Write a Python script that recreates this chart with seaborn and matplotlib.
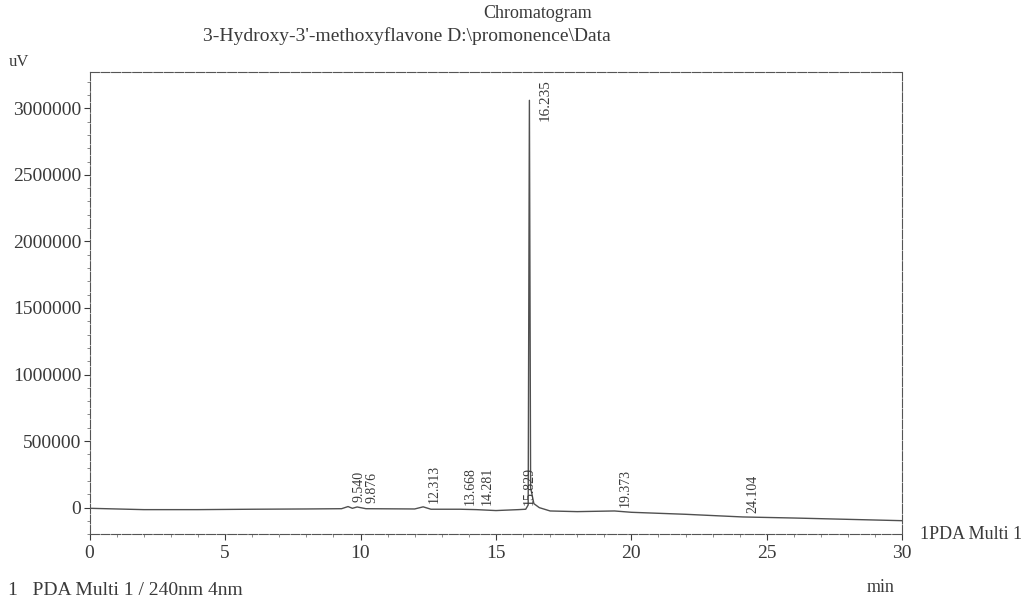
import numpy as np
import pandas as pd
import seaborn as sns
import matplotlib.pyplot as plt
from matplotlib.ticker import MultipleLocator

sns.set_theme(style='white')
plt.rcParams['font.family'] = ['Liberation Serif', 'DejaVu Serif']

# trace (min, uV)
time_min = [0, 1, 2, 4, 6, 8, 9.3, 9.54, 9.7, 9.876, 10.2, 12, 12.313, 12.6,
            13.668, 14.281, 15, 15.829, 16.1, 16.19, 16.235, 16.28, 16.4,
            16.6, 17, 18, 19.373, 20, 22, 24.104, 26, 28, 30]
signal_uv = [-5000, -10000, -15000, -15000, -12000, -10000, -8000, 8000, -5000,
             5000, -8000, -10000, 6000, -12000, -12000, -15000, -22000, -15000,
             -12000, 20000, 3060000, 150000, 30000, 0, -25000, -30000,
             -25000, -35000, -50000, -70000, -78000, -88000, -98000]

# peak labels
peak_rt = [9.540, 9.876, 12.313, 13.668, 14.281, 15.829, 19.373, 24.104]
peak_base = [8000, 5000, 6000, -12000, -15000, -15000, -25000, -70000]
main_rt = 16.235
main_height = 3060000

ink = '#3a3a3a'
df = pd.DataFrame({'time': time_min, 'uV': signal_uv})

fig = plt.figure(figsize=(10.3, 6.03), dpi=100)
ax = fig.add_axes([0.087, 0.114, 0.789, 0.766])
sns.lineplot(data=df, x='time', y='uV', ax=ax, color='#505050', linewidth=1.0,
             estimator=None, sort=False)

ax.set_xlim(0, 30)
ax.set_ylim(-200000, 3270000)
ax.xaxis.set_major_locator(MultipleLocator(5))
ax.xaxis.set_minor_locator(MultipleLocator(1))
ax.yaxis.set_minor_locator(MultipleLocator(100000))
ax.set_yticks(np.arange(0, 3000001, 500000))
ax.set_yticklabels([str(v) for v in range(0, 3000001, 500000)])
ax.tick_params(axis='both', which='major', direction='out', length=4, width=0.8,
               color=ink, labelcolor=ink, labelsize=14, pad=2)
ax.tick_params(axis='both', which='minor', direction='out', length=2, width=0.6,
               color='#777777')
ax.tick_params(axis='x', which='major', pad=4)
ax.tick_params(left=True, bottom=True, which='both')
ax.set_xlabel('')
ax.set_ylabel('')
for sp in ax.spines.values():
    sp.set_visible(True)
    sp.set_color('#555555')
    sp.set_linewidth(0.8)
    sp.set_linestyle((0, (8, 1.5)))

for i, (rt, base) in enumerate(zip(peak_rt, peak_base)):
    dx = 6 if i == 1 else 3
    ax.annotate(f'{rt:.3f}', xy=(rt, base), xytext=(dx, 3), textcoords='offset points',
                rotation=90, ha='left', va='bottom', fontsize=10, color=ink)
ax.annotate(f'{main_rt:.3f}', xy=(main_rt, main_height), xytext=(7, 0),
            textcoords='offset points', rotation=90, ha='left', va='center',
            fontsize=11, color=ink)

fig.text(0.522, 0.978, 'Chromatogram', ha='center', va='center', fontsize=13, color=ink)
fig.text(0.395, 0.94, "3-Hydroxy-3'-methoxyflavone D:\\promonence\\Data", ha='center',
         va='center', fontsize=14, color=ink)
fig.text(0.008, 0.897, 'uV', ha='left', va='center', fontsize=12, color=ink)
fig.text(0.855, 0.025, 'min', ha='center', va='center', fontsize=13, color=ink)
fig.text(0.893, 0.113, '1PDA Multi 1', ha='left', va='center', fontsize=13, color=ink)
fig.text(0.008, 0.014, '1   PDA Multi 1 / 240nm 4nm', ha='left', va='baseline',
         fontsize=14, color=ink)

fig.savefig('out.png', dpi=100)
